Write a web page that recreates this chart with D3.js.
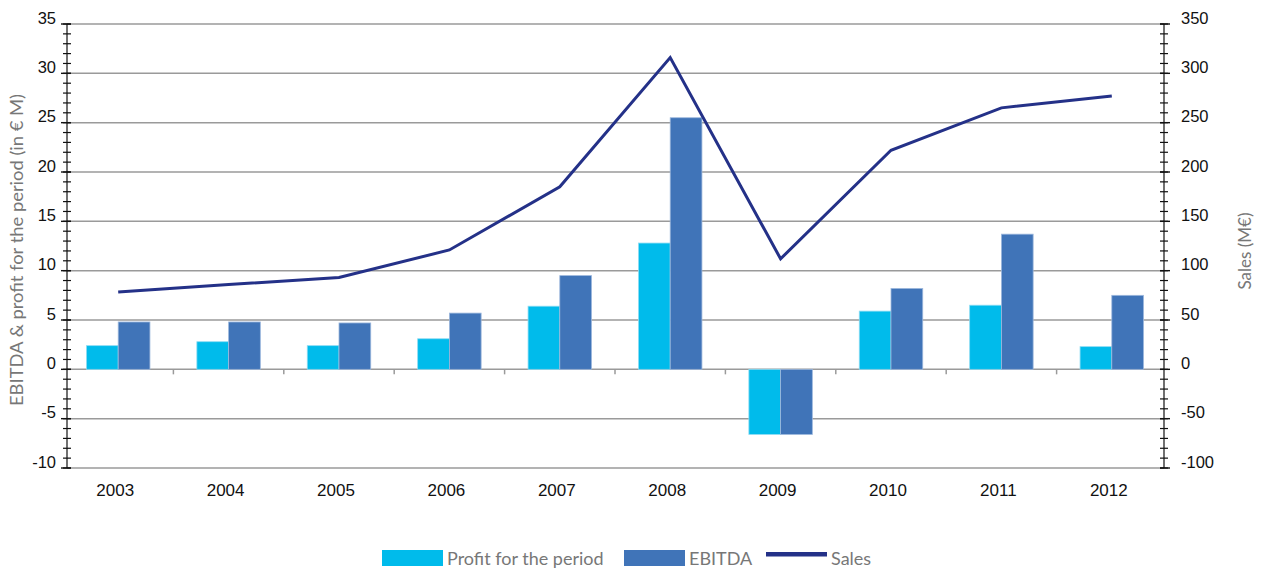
<!DOCTYPE html>
<html lang="en">
<head>
<meta charset="UTF-8">
<title>EBITDA, profit and sales</title>
<script src="https://d3js.org/d3.v7.min.js"></script>
<style>
    body {margin: 0; background: #fff;}
    svg {display: block;}
    .tick-lbl {font-family: "Liberation Sans", Arial, sans-serif; font-size: 16.5px; fill: #111;}
    .ttl {font-family: Lato, "Open Sans", sans-serif; font-size: 17px; fill: #777;}
</style>
</head>
<body>
<svg id="chart" width="1261" height="572"></svg>
<script>
// data
let years = ["2003","2004","2005","2006","2007","2008","2009","2010","2011","2012"]
let profit = [2.4, 2.8, 2.4, 3.1, 6.4, 12.8, -6.6, 5.9, 6.5, 2.3]
let ebitda = [4.8, 4.8, 4.7, 5.7, 9.5, 25.5, -6.6, 8.2, 13.7, 7.5]
let sales = [78.5, 86, 93, 121, 185, 316, 112, 222, 265, 277]
let leftTicks = [-10, -5, 0, 5, 10, 15, 20, 25, 30, 35]
let rightTicks = [-100, -50, 0, 50, 100, 150, 200, 250, 300, 350]

let svg = d3.select("#chart")
let axL = 67, axR = 1164, yTop = 24, yBot = 468

let x = d3.scaleBand().domain(years).range([63, 1167])
let yL = d3.scaleLinear().domain([-10, 35]).range([yBot, yTop])
let yR = d3.scaleLinear().domain([-100, 350]).range([yBot, yTop])

// gridlines
svg.append("g").selectAll("line")
    .data(leftTicks)
    .join("line")
    .attr("x1", axL).attr("x2", axR)
    .attr("y1", d => yL(d)).attr("y2", d => yL(d))
    .attr("stroke", "#9a9a9a")
    .attr("stroke-width", 1.5)

// category ticks below zero line
svg.append("g").selectAll("line")
    .data(years.slice(1))
    .join("line")
    .attr("x1", d => x(d)).attr("x2", d => x(d))
    .attr("y1", yL(0)).attr("y2", yL(0) + 5)
    .attr("stroke", "#9a9a9a")
    .attr("stroke-width", 1.5)

// bars
let grp = x.step() * 0.575
let bw = grp / 2
let bars = svg.append("g")
bars.selectAll(".profit")
    .data(profit)
    .join("rect")
    .attr("class", "profit")
    .attr("x", (d, i) => x(years[i]) + x.bandwidth() / 2 - bw)
    .attr("y", d => yL(Math.max(0, d)))
    .attr("width", bw)
    .attr("height", d => Math.abs(yL(d) - yL(0)))
    .attr("fill", "#00bbeb")
    .attr("stroke", "#8fdcf3")
    .attr("stroke-width", 0.8)
bars.selectAll(".ebitda")
    .data(ebitda)
    .join("rect")
    .attr("class", "ebitda")
    .attr("x", (d, i) => x(years[i]) + x.bandwidth() / 2)
    .attr("y", d => yL(Math.max(0, d)))
    .attr("width", bw)
    .attr("height", d => Math.abs(yL(d) - yL(0)))
    .attr("fill", "#4074b8")
    .attr("stroke", "#9db8dd")
    .attr("stroke-width", 0.8)

// sales line
let line = d3.line()
    .x((d, i) => x(years[i]) + x.bandwidth() / 2)
    .y(d => yR(d))
svg.append("path")
    .datum(sales)
    .attr("d", line)
    .attr("fill", "none")
    .attr("stroke", "#243188")
    .attr("stroke-width", 3)
    .attr("stroke-linejoin", "miter")

// left axis
let left = svg.append("g").attr("transform", `translate(${axL},0)`)
left.append("line").attr("y1", yTop).attr("y2", yBot).attr("stroke", "#111").attr("stroke-width", 1.2)
left.selectAll(".minor")
    .data(d3.range(-10, 36, 1))
    .join("line")
    .attr("class", "minor")
    .attr("x1", -4).attr("x2", 4)
    .attr("y1", d => yL(d)).attr("y2", d => yL(d))
    .attr("stroke", "#111").attr("stroke-width", 1.2)
left.selectAll(".major")
    .data(leftTicks)
    .join("line")
    .attr("class", "major")
    .attr("x1", -6).attr("x2", 4)
    .attr("y1", d => yL(d)).attr("y2", d => yL(d))
    .attr("stroke", "#111").attr("stroke-width", 1.4)
left.selectAll("text")
    .data(leftTicks)
    .join("text")
    .attr("class", "tick-lbl")
    .attr("x", -11)
    .attr("y", d => yL(d) - 6)
    .attr("text-anchor", "end")
    .attr("dy", "0.35em")
    .text(d => d)

// right axis
let right = svg.append("g").attr("transform", `translate(${axR},0)`)
right.append("line").attr("y1", yTop).attr("y2", yBot).attr("stroke", "#111").attr("stroke-width", 1.2)
right.selectAll(".minor")
    .data(d3.range(-100, 351, 10))
    .join("line")
    .attr("class", "minor")
    .attr("x1", -4).attr("x2", 4)
    .attr("y1", d => yR(d)).attr("y2", d => yR(d))
    .attr("stroke", "#111").attr("stroke-width", 1.2)
right.selectAll(".major")
    .data(rightTicks)
    .join("line")
    .attr("class", "major")
    .attr("x1", -4).attr("x2", 6)
    .attr("y1", d => yR(d)).attr("y2", d => yR(d))
    .attr("stroke", "#111").attr("stroke-width", 1.4)
right.selectAll("text")
    .data(rightTicks)
    .join("text")
    .attr("class", "tick-lbl")
    .attr("x", 17)
    .attr("y", d => yR(d) - 6)
    .attr("dy", "0.35em")
    .text(d => d)

// x labels
svg.append("g").selectAll("text")
    .data(years)
    .join("text")
    .attr("class", "tick-lbl")
    .style("font-size", "17px")
    .attr("x", d => x(d) + x.bandwidth() / 2 - 3)
    .attr("y", 496)
    .attr("text-anchor", "middle")
    .text(d => d)

// axis titles
svg.append("text")
    .attr("class", "ttl")
    .attr("transform", "translate(23,250) rotate(-90)")
    .attr("text-anchor", "middle")
    .attr("textLength", 312)
    .attr("lengthAdjust", "spacingAndGlyphs")
    .text("EBITDA & profit for the period (in € M)")
svg.append("text")
    .attr("class", "ttl")
    .attr("transform", "translate(1251,251) rotate(-90)")
    .attr("text-anchor", "middle")
    .text("Sales (M€)")

// legend
let legend = svg.append("g")
let items = [
    {name: "Profit for the period", color: "#00bbeb", kind: "rect", x: 382},
    {name: "EBITDA", color: "#4074b8", kind: "rect", x: 624},
    {name: "Sales", color: "#243188", kind: "line", x: 766}
]
items.forEach(it => {
    if (it.kind === "rect") {
        legend.append("rect").attr("x", it.x).attr("y", 550).attr("width", 61).attr("height", 16).attr("fill", it.color)
    } else {
        legend.append("rect").attr("x", it.x).attr("y", 552).attr("width", 61).attr("height", 4.5).attr("fill", it.color)
    }
    legend.append("text")
        .attr("class", "ttl")
        .attr("x", it.x + 65)
        .attr("y", 565)
        .style("font-size", "18px")
        .text(it.name)
})
</script>
</body>
</html>
